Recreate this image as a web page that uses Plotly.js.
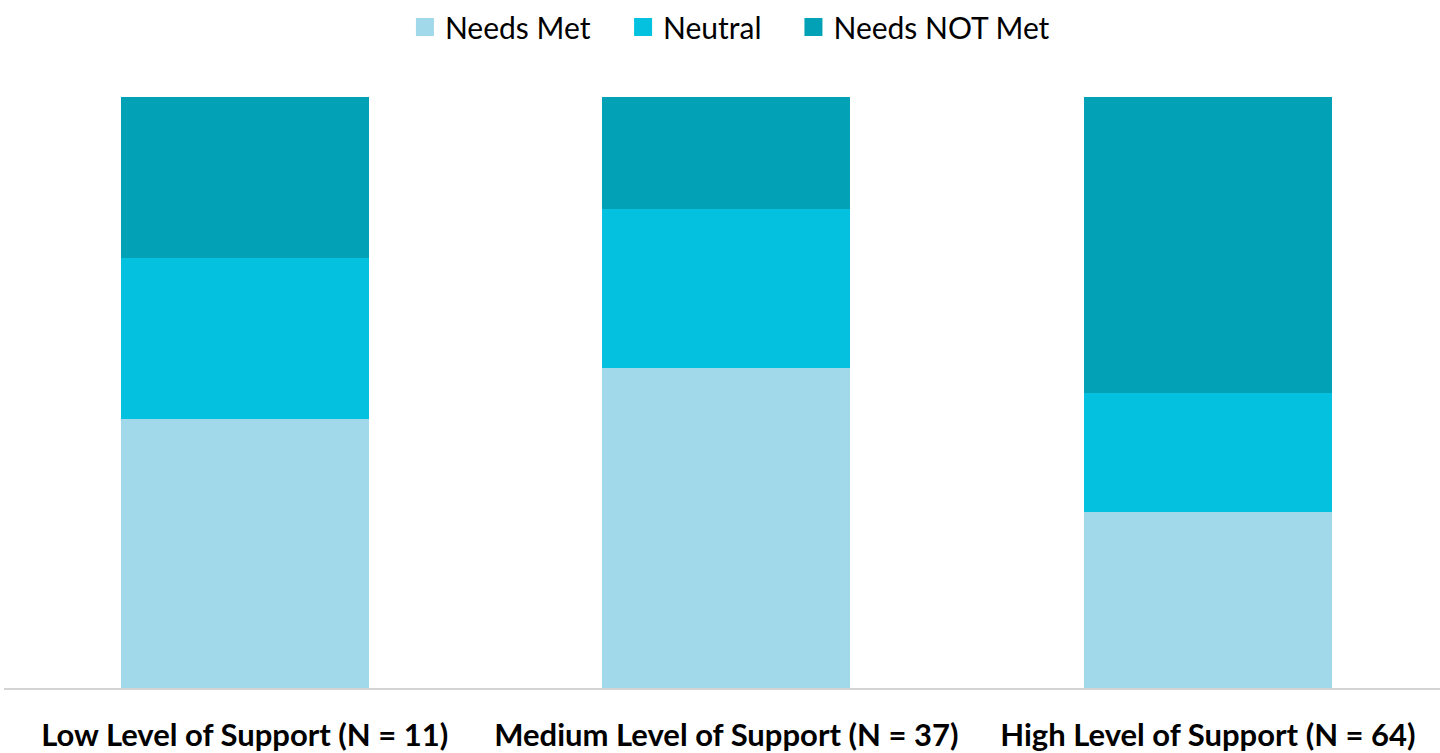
<!DOCTYPE html>
<html>
<head>
<meta charset="utf-8">
<script src="https://cdn.plot.ly/plotly-3.0.1.min.js"></script>
<style>
  html, body { margin: 0; padding: 0; background: #ffffff; }
  #chart { width: 1440px; height: 753px; }
</style>
</head>
<body>
<div id="chart"></div>
<script>
// Support level groups (categories)
const categories = [
  'Low Level of Support (N = 11)',
  'Medium Level of Support (N = 37)',
  'High Level of Support (N = 64)'
];

// Share of respondents (%) per group
const needsMet = [45.5, 54.1, 29.7];
const neutral = [27.3, 27.0, 20.3];
const needsNotMet = [27.3, 18.9, 50.0];

const seriesNames = ['Needs Met', 'Neutral', 'Needs NOT Met'];
const seriesColors = ['#a2d9ea', '#04c2df', '#02a1b5'];
const seriesValues = [needsMet, neutral, needsNotMet];

// One legend per series so each key can sit at its own spot
const legendIds = ['legend', 'legend2', 'legend3'];
const legendX = [0.2812, 0.4327, 0.5510];

const barTraces = seriesValues.map((vals, i) => ({
  type: 'bar',
  name: seriesNames[i],
  x: categories,
  y: vals,
  marker: { color: seriesColors[i], line: { width: 0 } },
  showlegend: false,
  hoverinfo: 'x+y+name'
}));

// Legend keys: empty marker traces give larger square swatches than bar keys
const keyTraces = seriesNames.map((name, i) => ({
  type: 'scatter',
  mode: 'markers',
  name: name,
  x: [null],
  y: [null],
  legend: legendIds[i],
  marker: { symbol: 'square', size: 16, color: seriesColors[i], line: { width: 2, color: seriesColors[i] } },
  showlegend: true,
  hoverinfo: 'skip'
}));

const legendBase = {
  orientation: 'h',
  xref: 'container',
  xanchor: 'left',
  yref: 'container',
  y: 0.964,
  yanchor: 'middle',
  bgcolor: 'rgba(0,0,0,0)',
  font: { size: 30, color: '#000000' }
};

const layout = {
  width: 1440,
  height: 753,
  barmode: 'stack',
  bargap: 0.485,
  paper_bgcolor: '#ffffff',
  plot_bgcolor: '#ffffff',
  margin: { l: 4, r: 0, t: 97, b: 65 },
  font: { family: 'Lato, "Open Sans", sans-serif', color: '#000000' },
  showlegend: true,
  xaxis: {
    type: 'category',
    range: [-0.5, 2.482],
    showline: true,
    linecolor: '#d4d4d4',
    linewidth: 2,
    showgrid: false,
    zeroline: false,
    ticks: 'outside',
    ticklen: 19,
    tickcolor: 'rgba(0,0,0,0)',
    tickfont: { size: 31, family: 'Lato, "Open Sans", sans-serif', weight: 'bold', color: '#000000' },
    fixedrange: true
  },
  yaxis: {
    range: [0, 100],
    visible: false,
    showgrid: false,
    zeroline: false,
    fixedrange: true
  }
};

legendIds.forEach((id, i) => {
  layout[id] = Object.assign({}, legendBase, { x: legendX[i] });
});

Plotly.newPlot('chart', barTraces.concat(keyTraces), layout, { displayModeBar: false, staticPlot: true });
</script>
</body>
</html>
